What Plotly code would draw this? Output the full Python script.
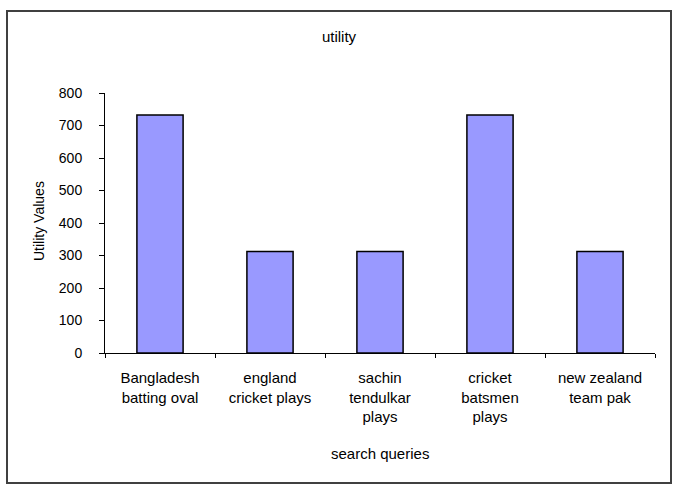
import plotly.graph_objects as go

# Search queries and their utility values
queries = [
    "Bangladesh<br>batting oval",
    "england<br>cricket plays",
    "sachin<br>tendulkar<br>plays",
    "cricket<br>batsmen<br>plays",
    "new zealand<br>team pak",
]
utility_values = [732, 312, 312, 732, 312]
y_ticks = [0, 100, 200, 300, 400, 500, 600, 700, 800]

FONT = "Liberation Sans, Arial, sans-serif"

fig = go.Figure(
    go.Bar(
        x=queries,
        y=utility_values,
        marker=dict(color="#9999FF", line=dict(color="#000000", width=1.5)),
        showlegend=False,
    )
)

fig.update_layout(
    width=674,
    height=485,
    margin=dict(l=105, r=19, t=93, b=132),
    paper_bgcolor="white",
    plot_bgcolor="white",
    bargap=0.58,
    font=dict(family=FONT, color="#000000", size=14),
    title=dict(
        text="utility",
        x=339 / 674,
        xanchor="center",
        y=1 - 37 / 485,
        yanchor="middle",
        font=dict(family=FONT, size=15, color="#000000"),
    ),
)

fig.update_xaxes(
    type="category",
    showline=True,
    linecolor="#000000",
    linewidth=1,
    ticks="outside",
    tickson="boundaries",
    ticklen=4,
    tickcolor="#000000",
    showgrid=False,
    tickfont=dict(family=FONT, size=15),
    ticklabelstandoff=11,
)

fig.update_yaxes(
    range=[0, 800],
    tickvals=y_ticks,
    ticktext=[str(v) for v in y_ticks],
    showline=True,
    linecolor="#000000",
    linewidth=1,
    ticks="outside",
    ticklen=5,
    tickcolor="#000000",
    showgrid=False,
    zeroline=False,
    tickfont=dict(family=FONT, size=14),
    ticklabelstandoff=14,
)

# Axis titles
fig.add_annotation(
    text="Utility Values",
    xref="paper", yref="paper",
    x=(39 - 105) / 550, y=(353 - 221) / 260,
    textangle=-90,
    showarrow=False,
    font=dict(family=FONT, size=14),
    xanchor="center", yanchor="middle",
)
fig.add_annotation(
    text="search queries",
    xref="paper", yref="paper",
    x=0.5, y=(353 - 453) / 260,
    showarrow=False,
    font=dict(family=FONT, size=15),
    xanchor="center", yanchor="middle",
)

# Chart border
fig.add_shape(
    type="rect",
    xref="paper", yref="paper",
    x0=(7 - 105) / 550, x1=(671 - 105) / 550,
    y0=(353 - 483) / 260, y1=(353 - 11) / 260,
    line=dict(color="#404040", width=2),
    fillcolor="rgba(0,0,0,0)",
    layer="below",
)

fig.write_html("out.html")
